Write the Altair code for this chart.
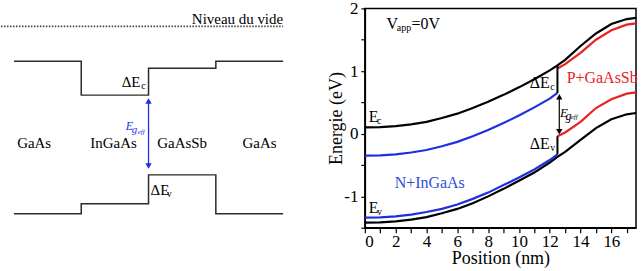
import altair as alt
import pandas as pd

FONT = "Liberation Serif"
BLUE = "#1f2fe0"
BLUE_TXT = "#2f4fd8"
RED = "#e8231f"

# ---------------- right panel data (Energie vs Position) ----------------
x_all = [0, 1, 2, 3, 4, 5, 6, 7, 8, 9, 10, 11, 12, 12.5, 13, 14, 15, 16, 17, 17.6]
ec_ref = [0.10, 0.105, 0.12, 0.15, 0.19, 0.25, 0.32, 0.41, 0.51, 0.62, 0.74, 0.87, 1.01, 1.09,
          1.18, 1.40, 1.60, 1.75, 1.83, 1.85]
ev_ref = [-1.42, -1.415, -1.40, -1.37, -1.33, -1.27, -1.20, -1.11, -1.00, -0.88, -0.75, -0.62,
          -0.46, -0.37, -0.29, -0.10, 0.09, 0.23, 0.31, 0.33]

x_n = [0, 1, 2, 3, 4, 5, 6, 7, 8, 9, 10, 11, 12, 12.5]
ec_n = [-0.35, -0.345, -0.33, -0.30, -0.26, -0.20, -0.13, -0.04, 0.06, 0.17, 0.29, 0.42, 0.56, 0.65]
ev_n = [-1.34, -1.335, -1.32, -1.29, -1.25, -1.20, -1.13, -1.04, -0.94, -0.82, -0.70, -0.57, -0.42, -0.33]

x_p = [12.5, 13, 14, 15, 16, 17, 17.6]
ec_p = [1.04, 1.11, 1.29, 1.50, 1.65, 1.74, 1.76]
ev_p = [-0.04, 0.02, 0.19, 0.41, 0.55, 0.64, 0.66]

x_ticks = list(range(0, 18))
y_ticks = [-1.5, -1, -0.5, 0, 0.5, 1, 1.5, 2]

# ---------------- left panel data (schematic band diagram) ----------------
layers = ["GaAs", "InGaAs", "GaAsSb", "GaAs"]
bounds = [0, 1, 2, 3, 4]
ec_levels = [169, 135, 162, 169]   # arbitrary energy units
ev_levels = [16, 26, 55, 16]
vacuum_level = 204
layer_label_x = [0.30, 1.48, 2.50, 3.65]
layer_label_y = 87

# ================= right chart =================
rows = []
for name, xs_, ys_ in [("ref_c", x_all, ec_ref), ("ref_v", x_all, ev_ref),
                       ("n_c", x_n, ec_n), ("n_v", x_n, ev_n),
                       ("p_c", x_p, ec_p), ("p_v", x_p, ev_p)]:
    for xv, yv in zip(xs_, ys_):
        rows.append({"curve": name, "grp": name.split("_")[0], "x": xv, "y": yv})
df = pd.DataFrame(rows)

xs = alt.Scale(domain=[0, 17.6], nice=False, zero=False)
ys = alt.Scale(domain=[-1.5, 2], nice=False, zero=False)

x_axis = alt.Axis(values=x_ticks, format="~g",
                  labelExpr="datum.value % 2 == 0 ? datum.label : ''",
                  labelOverlap=False, grid=False, tickSize=5, labelPadding=1, titlePadding=0)
y_axis = alt.Axis(values=y_ticks, format="~g",
                  labelExpr="datum.value % 1 == 0 ? replace(datum.label, '\u2212', '-') : ''",
                  labelOverlap=False, grid=False, tickSize=4, labelPadding=3, titlePadding=-2)


def X(f="x:Q"):
    return alt.X(f, scale=xs, title="Position (nm)", axis=x_axis)


def Y(f="y:Q"):
    return alt.Y(f, scale=ys, title="Energie (eV)", axis=y_axis)


lines = alt.Chart(df).mark_line(strokeWidth=2.2).encode(
    x=X(), y=Y(),
    color=alt.Color("grp:N", scale=alt.Scale(domain=["ref", "n", "p"], range=["black", BLUE, RED]),
                    legend=None),
    detail="curve:N",
    order="x:Q",
)

jump = pd.DataFrame({
    "x": [x_n[-1], x_n[-1]],
    "y": [ec_n[-1], ev_n[-1]],
    "y2": [ec_ref[x_all.index(12.5)], ev_p[0]],
})
jumps = alt.Chart(jump).mark_rule(color="black", strokeWidth=2).encode(
    x=X(), y=Y(), y2="y2:Q")

arrow_x = 12.62
arr = pd.DataFrame({"x": [arrow_x], "y": [ec_n[-1] - 0.05], "y2": [ev_p[0] + 0.08]})
arrow_line = alt.Chart(arr).mark_rule(color="black", strokeWidth=1.2).encode(
    x=X(), y=Y(), y2="y2:Q")
heads = pd.DataFrame({"x": [arrow_x, arrow_x], "y": [ec_n[-1] - 0.06, ev_p[0] + 0.07],
                      "shape": ["triangle-up", "triangle-down"]})
arrow_heads = alt.Chart(heads).mark_point(filled=True, color="black", size=40, opacity=1).encode(
    x=X(), y=Y(),
    shape=alt.Shape("shape:N", scale=None))


def texts(data, size, color="black", align="left", style="normal"):
    d = pd.DataFrame(data, columns=["t", "x", "y"])
    return alt.Chart(d).mark_text(font=FONT, fontSize=size, color=color, align=align,
                                  baseline="middle", fontStyle=style).encode(
        x=X(), y=Y(), text="t:N")


r_main = texts([("V", 1.41, 1.75), ("=0V", 3.03, 1.75), ("E", 0.26, 0.27), ("E", 0.26, -1.19)], 16)
r_sub = texts([("app", 2.07, 1.68), ("c", 0.78, 0.21), ("v", 0.78, -1.25)], 10)
r_delta = texts([("ΔE", 12.0, 0.81), ("ΔE", 12.0, -0.165)], 16, align="right")
r_dsub = texts([("c", 12.03, 0.75), ("v", 12.03, -0.225)], 10)
r_n = texts([("N+InGaAs", 1.94, -0.79)], 16, color=BLUE_TXT)
r_p = texts([("P+GaAsSb", 13.1, 0.89)], 16, color=RED)
r_eg = texts([("E", 12.66, 0.33)], 13, style="italic")
r_eg2 = texts([("g", 13.02, 0.29)], 12, style="italic")
r_eg3 = texts([("eff", 13.36, 0.27)], 7, style="italic")

right = alt.layer(lines, jumps, arrow_line, arrow_heads, r_main, r_sub, r_delta, r_dsub,
                  r_n, r_p, r_eg, r_eg2, r_eg3).properties(
    width=272, height=220,
    view=alt.ViewBackground(stroke="black", strokeWidth=1.5),
)

# ================= left chart =================
lx = alt.Scale(domain=[-13 / 67.5, 277 / 67.5], nice=False, zero=False)
ly = alt.Scale(domain=[2, 222], nice=False, zero=False)

band_rows = []
for i, b in enumerate(bounds):
    lev_c = ec_levels[min(i, len(ec_levels) - 1)]
    lev_v = ev_levels[min(i, len(ev_levels) - 1)]
    band_rows.append({"band": "c", "x": b, "y": lev_c})
    band_rows.append({"band": "v", "x": b, "y": lev_v})
bdf = pd.DataFrame(band_rows)
bands = alt.Chart(bdf).mark_line(interpolate="step-after", color="#2b2b2b", strokeWidth=1.5).encode(
    x=alt.X("x:Q", scale=lx, axis=None),
    y=alt.Y("y:Q", scale=ly, axis=None),
    detail="band:N", order="x:Q")

vac = pd.DataFrame({"x": [lx.domain[0]], "x2": [bounds[-1]], "y": [vacuum_level]})
vacuum = alt.Chart(vac).mark_rule(color="#444444", strokeWidth=1.6, strokeDash=[1.5, 1.5]).encode(
    x=alt.X("x:Q", scale=lx, axis=None), x2="x2:Q", y=alt.Y("y:Q", scale=ly, axis=None))

ax = bounds[2]
la = pd.DataFrame({"x": [ax], "y": [ec_levels[1] - 5], "y2": [ev_levels[2] + 8]})
l_arrow = alt.Chart(la).mark_rule(color=BLUE, strokeWidth=1.3).encode(
    x=alt.X("x:Q", scale=lx, axis=None), y=alt.Y("y:Q", scale=ly, axis=None), y2="y2:Q")
lh = pd.DataFrame({"x": [ax, ax], "y": [ec_levels[1] - 6, ev_levels[2] + 9],
                   "shape": ["triangle-up", "triangle-down"]})
l_heads = alt.Chart(lh).mark_point(filled=True, color=BLUE, size=40, opacity=1).encode(
    x=alt.X("x:Q", scale=lx, axis=None), y=alt.Y("y:Q", scale=ly, axis=None),
    shape=alt.Shape("shape:N", scale=None))


def ltexts(data, size, color="black", align="left", style="normal"):
    d = pd.DataFrame(data, columns=["t", "x", "y"])
    return alt.Chart(d).mark_text(font=FONT, fontSize=size, color=color, align=align,
                                  baseline="middle", fontStyle=style).encode(
        x=alt.X("x:Q", scale=lx, axis=None), y=alt.Y("y:Q", scale=ly, axis=None), text="t:N")


l_layers = ltexts([(n, xv, layer_label_y) for n, xv in zip(layers, layer_label_x)], 15, align="center")
l_vide = ltexts([("Niveau du vide", bounds[-1], 211)], 15, align="right")
l_dc = ltexts([("ΔE", 1.88, 148)], 15, align="right")
l_dcs = ltexts([("c", 1.89, 144)], 10)
l_dv = ltexts([("ΔE", 2.03, 40)], 15)
l_dvs = ltexts([("v", 2.27, 36)], 10)
l_eg = ltexts([("E", 1.66, 104)], 12, color=BLUE, style="italic")
l_eg2 = ltexts([("g", 1.75, 100)], 11, color=BLUE, style="italic")
l_eg3 = ltexts([("eff", 1.84, 98)], 7, color=BLUE, style="italic")

left = alt.layer(vacuum, bands, l_arrow, l_heads, l_layers, l_vide, l_dc, l_dcs, l_dv, l_dvs,
                 l_eg, l_eg2, l_eg3).properties(width=290, height=220)

chart = alt.hconcat(left, right, spacing=75, bounds="flush").resolve_scale(
    x="independent", y="independent", color="independent", shape="independent"
).properties(
    padding={"left": 0, "top": -2, "right": 0, "bottom": 0}, background="white"
).configure_view(
    stroke=None
).configure_axis(
    labelFont=FONT, titleFont=FONT, labelFontSize=17, titleFontSize=18,
    titleFontWeight="normal", labelColor="black", titleColor="black",
    domainColor="black", tickColor="black", domainWidth=1.5, tickWidth=1.2,
    labelOverlap=False,
)

chart.save("out.html", embed_options={"renderer": "svg", "actions": False})
